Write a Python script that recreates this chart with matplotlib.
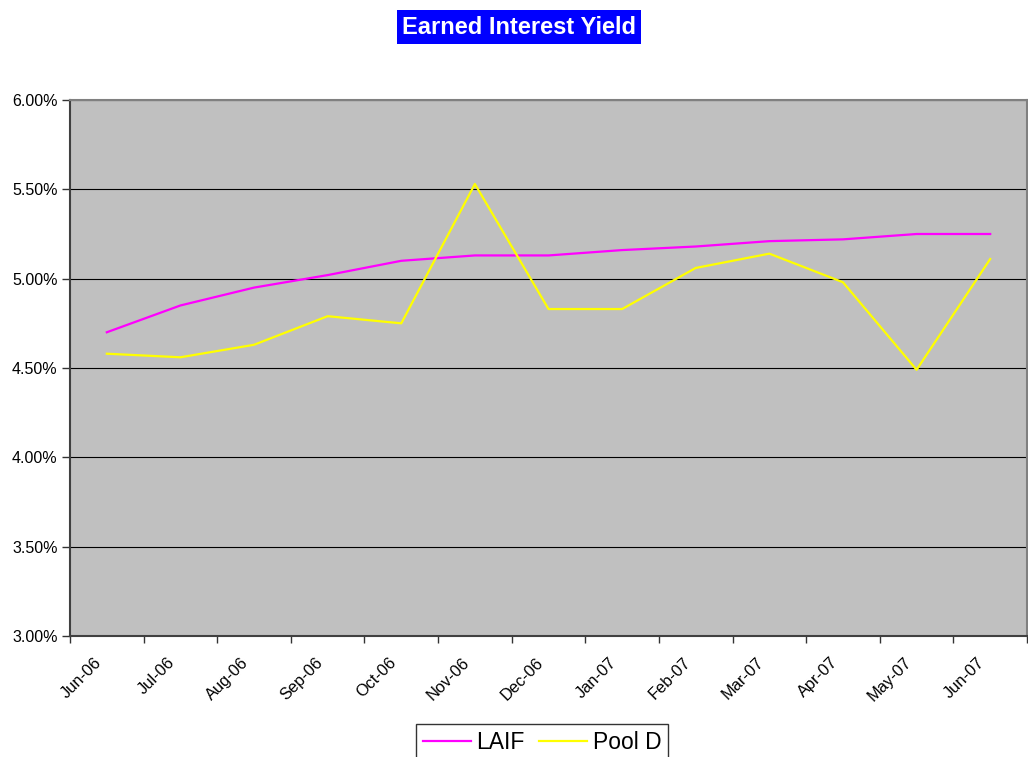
import numpy as np
import matplotlib.pyplot as plt
from matplotlib.ticker import FuncFormatter, FixedLocator
from matplotlib.transforms import ScaledTranslation

months = ['Jun-06', 'Jul-06', 'Aug-06', 'Sep-06', 'Oct-06', 'Nov-06', 'Dec-06',
          'Jan-07', 'Feb-07', 'Mar-07', 'Apr-07', 'May-07', 'Jun-07']
laif = [4.70, 4.85, 4.95, 5.02, 5.10, 5.13, 5.13, 5.16, 5.18, 5.21, 5.22, 5.25, 5.25]
pool_d = [4.58, 4.56, 4.63, 4.79, 4.75, 5.53, 4.83, 4.83, 5.06, 5.14, 4.98, 4.49, 5.11]

plt.rcParams['font.family'] = ['Liberation Sans', 'DejaVu Sans']

fig = plt.figure(figsize=(10.28, 7.57), dpi=100)
ax = fig.add_axes([70 / 1028, 1 - 636 / 757, 957 / 1028, 536 / 757])
ax.set_facecolor('#C0C0C0')

x = np.arange(len(months))
ax.plot(x, laif, color='#FF00FF', lw=1.6, label='LAIF')
ax.plot(x, pool_d, color='#FFFF00', lw=1.6, label='Pool D')

ax.set_xlim(-0.5, len(months) - 0.5)
ax.set_ylim(3.0, 6.0)
ax.set_yticks(np.arange(3.0, 6.01, 0.5))
ax.yaxis.set_major_formatter(FuncFormatter(lambda v, p: '%.2f%%' % v))
ax.grid(axis='y', color='black', lw=0.8)
ax.set_axisbelow(True)

ax.set_xticks(x)
ax.set_xticklabels(months, rotation=45, ha='right', rotation_mode='anchor')
ax.xaxis.set_minor_locator(FixedLocator(np.arange(-0.5, len(months), 1.0)))
ax.tick_params(axis='x', which='major', length=0, pad=10, labelsize=11.8)
ax.tick_params(axis='x', which='minor', length=5, width=1, color='#333333')
ax.tick_params(axis='y', length=6, width=1, pad=3, labelsize=11.5, color='#333333')

# shift rotated labels to where the original sits
shift = ScaledTranslation(-13 / 100, -5 / 100, fig.dpi_scale_trans)
for lab in ax.get_xticklabels():
    lab.set_transform(lab.get_transform() + shift)

for s in ['left', 'bottom']:
    ax.spines[s].set_color('#404040')
    ax.spines[s].set_linewidth(1.5)
for s in ['top', 'right']:
    ax.spines[s].set_color('#808080')
    ax.spines[s].set_linewidth(1.5)

fig.text(519 / 1028, 1 - 27 / 757, 'Earned Interest Yield', ha='center', va='center',
         fontsize=17, fontweight='bold', color='white',
         bbox=dict(boxstyle='square,pad=0.22', facecolor='#0000FF', edgecolor='none'))

fig.legend(loc='upper center', bbox_to_anchor=(542 / 1028, 1 - 724 / 757), ncol=2,
           fontsize=16.5, frameon=True, fancybox=False, edgecolor='black',
           borderaxespad=0, handlelength=2.1, handletextpad=0.25, columnspacing=0.6,
           borderpad=0.3)

fig.savefig('out.png', dpi=100)
